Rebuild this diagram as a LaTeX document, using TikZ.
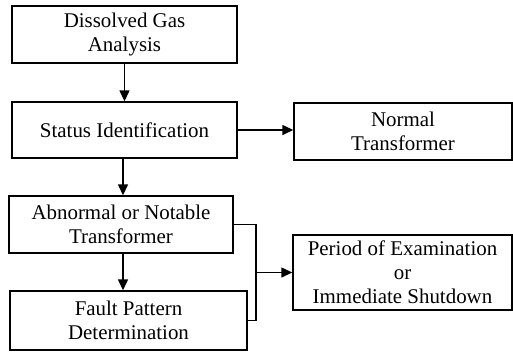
\documentclass[tikz,border=0pt]{standalone}
\usepackage{fontspec}
\setmainfont{Liberation Serif}
\usetikzlibrary{arrows.meta}

\begin{document}
\begin{tikzpicture}[
	x = 1bp, y = -1bp, % pixel-like units, y going down
	> = {Triangle[length=11bp,width=10bp]}, % arrow head style
	line width = 1.4bp, % line style
	font = \fontsize{21}{24}\selectfont
	]
	
	\tikzstyle{every node}=[
	draw = black,
	line width = 1.4bp,
	fill = white,
	align = center,
	inner sep = 0pt
	]
	
	\useasboundingbox (0,0) rectangle (513,351);
	
	\node[minimum width=225bp, minimum height=57bp] (dga) at (124.5,34.5) {Dissolved Gas\\Analysis};
	\node[minimum width=225bp, minimum height=56bp] (status) at (124.5,130) {Status Identification};
	\node[minimum width=218bp, minimum height=57bp] (normal) at (403,131.5) {Normal\\Transformer};
	\node[minimum width=224bp, minimum height=57bp] (abnormal) at (121,224.5) {Abnormal or Notable\\Transformer};
	\node[minimum width=237bp, minimum height=59bp] (fault) at (128.5,320.5) {Fault Pattern\\Determination};
	\node[minimum width=219bp, minimum height=75bp] (period) at (402.5,272.5) {Period of Examination\\or\\Immediate Shutdown};
	\coordinate (join) at (256,272.5);
	
	\path[->]
	(dga) edge (status)
	(status.east) edge (status.east -| normal.west)
	(status.south -| 123,0) edge (abnormal.north -| 123,0)
	(abnormal.south -| 123,0) edge (fault.north -| 123,0)
	(join) edge (period.west);
	
	\draw (abnormal.east) -| (join) |- (fault.east);
	
\end{tikzpicture}
\end{document}
